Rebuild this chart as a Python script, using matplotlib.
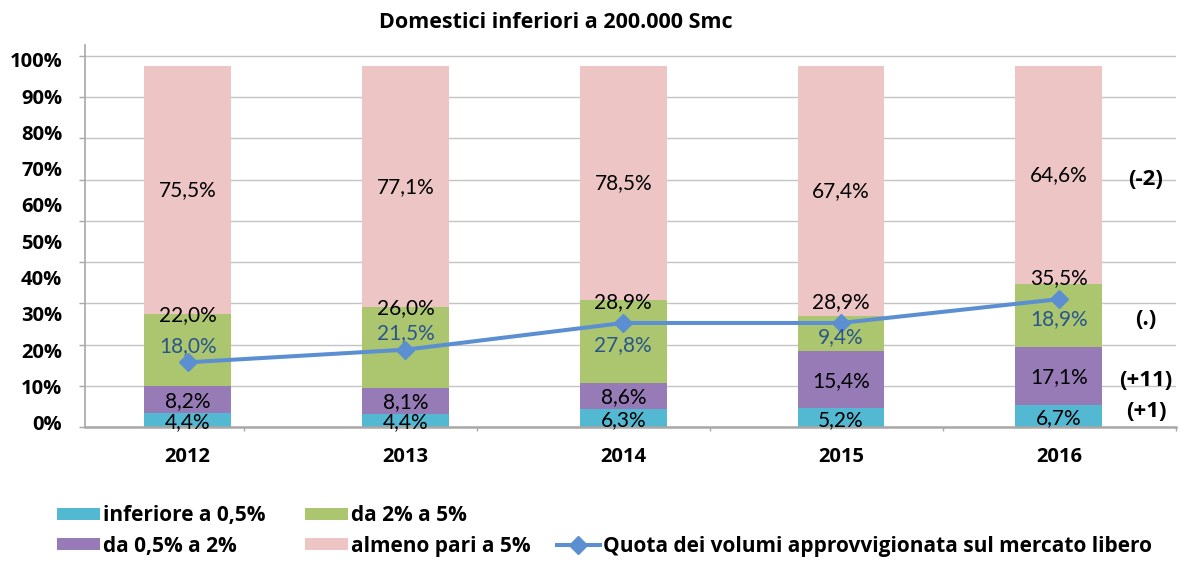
import numpy as np
import matplotlib.pyplot as plt
from matplotlib.patches import Patch
from matplotlib.lines import Line2D
from matplotlib.ticker import FixedLocator

plt.rcParams['font.family'] = ['Lato', 'DejaVu Sans']
BOLD = ['Open Sans', 'DejaVu Sans']

years = ['2012', '2013', '2014', '2015', '2016']
# quote per classe di switching (%), come nelle etichette
inf_05 = [4.4, 4.4, 6.3, 5.2, 6.7]
da05_a2 = [8.2, 8.1, 8.6, 15.4, 17.1]
da2_a5 = [22.0, 26.0, 27.8, 9.4, 18.9]
almeno5 = [75.5, 77.1, 78.5, 67.4, 64.6]
quota_libero = [18.0, 21.5, 28.9, 28.9, 35.5]
variazioni = ['(+1)', '(+11)', '(.)', '(-2)']   # dal basso verso l'alto

serie = ['inferiore a 0,5%', 'da 0,5% a 2%', 'da 2% a 5%', 'almeno pari a 5%']
nome_linea = 'Quota dei volumi approvvigionata sul mercato libero'
titolo = 'Domestici inferiori a 200.000 Smc'

colori = ['#53B8D2', '#967BB6', '#ABC66F', '#EDC5C4']
col_linea = '#5B8FD1'
col_blu = '#2B568A'
grigio = '#A8A8A8'

def pct(v):
    return ('%.1f%%' % v).replace('.', ',')

vals = np.array([inf_05, da05_a2, da2_a5, almeno5])
norm = vals / vals.sum(axis=0) * 100      # barre al 100%
x = np.arange(len(years))

fig = plt.figure(figsize=(11.8, 5.61), dpi=100)
ax = fig.add_axes([85/1180, 133.7/561, 1091/1180, 382.3/561])
ax.set_xlim(-0.4716, 4.538)
ax.set_ylim(0, 105.9)

bottom = np.zeros(len(years))
bots = []
for i in range(4):
    ax.bar(x, norm[i], bottom=bottom, width=0.398, color=colori[i], zorder=2)
    bots.append(bottom.copy())
    bottom = bottom + norm[i]
bots = np.array(bots)
centri = bots + norm / 2

ax.plot(x, quota_libero, color=col_linea, lw=2.9, marker='D', ms=9, zorder=3)

fs = 15
def lab(s, xy, dy, color='black'):
    ax.annotate(s, xy, xytext=(0, dy), textcoords='offset points', ha='center',
                va='center', fontsize=fs, color=color, zorder=6)

for j in range(len(years)):
    lab(pct(inf_05[j]), (x[j], centri[0, j]), -1.5)
    lab(pct(da05_a2[j]), (x[j], centri[1, j]), -1)
    lab(pct(almeno5[j]), (x[j], centri[3, j]), 0)
    # etichetta della linea sopra il punto
    y_lin = quota_libero[j] + 5.5
    if abs(centri[2, j] - y_lin) < 7:
        # verde in cima al segmento (nero), linea sotto (blu)
        lab(pct(da2_a5[j]), (x[j], bots[3, j]), -1)
        lab(pct(quota_libero[j]), (x[j], quota_libero[j]), 12, col_blu)
    else:
        lab(pct(da2_a5[j]), (x[j], centri[2, j]), -2.5, col_blu)
        lab(pct(quota_libero[j]), (x[j], quota_libero[j]), 15)

# variazioni a destra dell'ultima barra
for i in range(4):
    ax.annotate(variazioni[i], (4.40, max(centri[i, -1], 5.5)), xytext=(0, -3),
                textcoords='offset points', ha='center', va='center', fontsize=16,
                fontweight='bold', family=BOLD, zorder=4)

# assi
for s in ['top', 'right']:
    ax.spines[s].set_visible(False)
ax.spines['left'].set_color(grigio)
ax.spines['left'].set_linewidth(1.2)
ax.spines['bottom'].set_color(grigio)
ax.spines['bottom'].set_linewidth(1.8)
ax.spines['bottom'].set_zorder(5)

ax.set_yticks(np.linspace(0, 102.9, 10))
ax.set_yticklabels([])
ax.yaxis.set_minor_locator(FixedLocator([1.3 + v * 1.005 for v in range(0, 101, 10)]))
ax.set_yticklabels(['%d%%' % v for v in range(0, 101, 10)], minor=True)
ax.tick_params(axis='y', which='major', length=4, color=grigio, width=1)
ax.tick_params(axis='y', which='minor', length=0, pad=16.5, labelsize=14.5)
ax.grid(axis='y', which='major', color='#C4C4C4', lw=1, zorder=0)
ax.set_axisbelow(True)

ax.set_xticks(np.linspace(0.2585, 4.538, 5))
ax.set_xticklabels([])
ax.xaxis.set_minor_locator(FixedLocator(x))
ax.set_xticklabels(years, minor=True)
ax.tick_params(axis='x', which='major', length=3, color=grigio, width=1)
ax.tick_params(axis='x', which='minor', length=0, pad=14.5, labelsize=14.5)
for t in ax.get_yticklabels(minor=True) + ax.get_xticklabels(minor=True):
    t.set_fontweight('bold')
    t.set_family(BOLD)

fig.text(555.8/1180, 1 - 23/561, titolo, ha='center', va='center',
         fontsize=15.5, fontweight='bold', family=BOLD)

# legenda su tre colonne
opts = dict(loc='center left', frameon=False, borderpad=0, borderaxespad=0,
            handlelength=2.06, handleheight=0.48, handletextpad=0.15,
            labelspacing=0.45, prop={'size': 15, 'weight': 'bold', 'family': BOLD})
yl = 1 - 531/561
h = [Patch(facecolor=c, edgecolor='none') for c in colori]
fig.legend([h[0], h[1]], [serie[0], serie[1]], bbox_to_anchor=(57/1180, yl), **opts)
fig.legend([h[2], h[3]], [serie[2], serie[3]], bbox_to_anchor=(305/1180, yl), **opts)
fig.legend([Line2D([], [], color='none'),
            Line2D([], [], color=col_linea, lw=2.9, marker='D', ms=9)],
           [' ', nome_linea], bbox_to_anchor=(557/1180, yl), **opts)

fig.savefig('out.png', dpi=100)
